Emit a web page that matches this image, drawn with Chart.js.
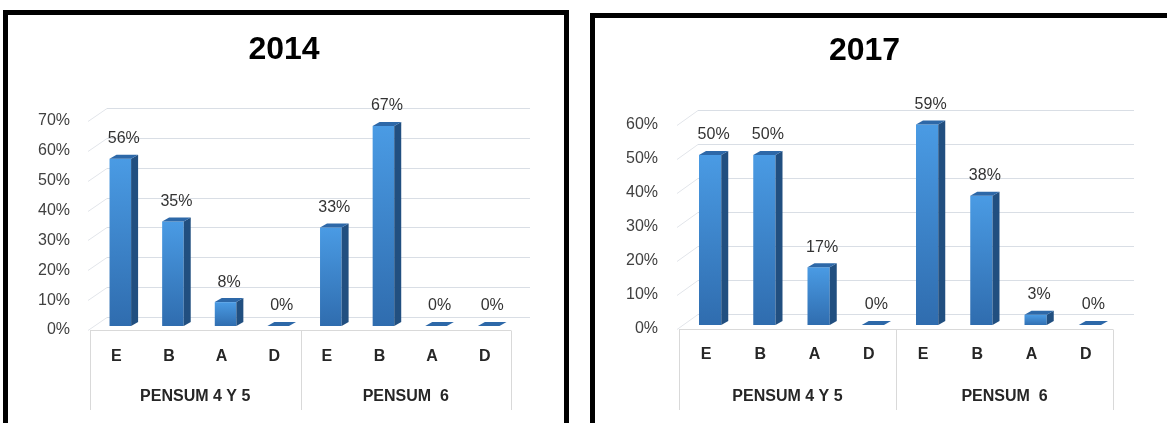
<!DOCTYPE html>
<html>
<head>
<meta charset="utf-8">
<title>Pensum 2014 - 2017</title>
<script src="https://cdn.jsdelivr.net/npm/chart.js@4.4.0/dist/chart.umd.min.js"></script>
<style>
body { margin:0; background:#fff; width:1167px; height:423px; overflow:hidden; position:relative; }
canvas { position:absolute; top:0; }
#c2014 { left:0; }
#c2017 { left:585px; }
.marco { position:absolute; border:5px solid #000; box-sizing:border-box; pointer-events:none; }
#m2014 { left:3px; top:10px; width:566px; height:440px; }
#m2017 { left:590px; top:13px; width:620px; height:440px; }
</style>
</head>
<body>
<canvas id="c2014" width="568" height="423"></canvas>
<canvas id="c2017" width="559" height="423"></canvas>
<div class="marco" id="m2014"></div>
<div class="marco" id="m2017"></div>
<script>
const categorias = ['E', 'B', 'A', 'D', 'E', 'B', 'A', 'D'];
const grupos = ['PENSUM 4 Y 5', 'PENSUM  6'];
const valores2014 = [56, 35, 8, 0, 33, 67, 0, 0];
const valores2017 = [50, 50, 17, 0, 59, 38, 3, 0];
const ticks2014 = [0, 10, 20, 30, 40, 50, 60, 70];
const ticks2017 = [0, 10, 20, 30, 40, 50, 60];

Chart.defaults.font.family = "'Liberation Sans', Arial, sans-serif";

// desplazamiento de las barras hacia el fondo y tamaño de las caras 3D
const DX = 4, DY = -4;
const LADO = 7, ALTO = 4;

const efecto3d = {
    id: 'efecto3d',
    beforeDatasetsDraw(chart, args, opts) {
        const ctx = chart.ctx;
        const area = chart.chartArea;
        const y = chart.scales.y, x = chart.scales.x, x2 = chart.scales.x2;
        ctx.save();
        ctx.lineWidth = 1;
        // lineas de la pared del fondo
        y.ticks.forEach(t => {
            const py = Math.round(y.getPixelForValue(t.value)) + 0.5;
            const pyF = py - opts.fondoY;
            ctx.strokeStyle = '#e2e5ea';
            ctx.beginPath();
            ctx.moveTo(area.left - 2, py);
            ctx.lineTo(area.left + opts.fondoX, pyF);
            ctx.stroke();
            ctx.strokeStyle = '#d9dee5';
            ctx.beginPath();
            ctx.moveTo(area.left + opts.fondoX, pyF);
            ctx.lineTo(area.right + opts.fondoX + 2, pyF);
            ctx.stroke();
        });
        // caja de las etiquetas de categoria
        ctx.strokeStyle = '#d9d9d9';
        const base = Math.round(area.bottom) + 0.5;
        ctx.beginPath();
        ctx.moveTo(area.left, base);
        ctx.lineTo(area.right, base);
        ctx.stroke();
        const medio = (x.getPixelForValue(3) + x.getPixelForValue(4)) / 2;
        [area.left, medio, area.right].forEach(px => {
            px = Math.round(px) + 0.5;
            ctx.beginPath();
            ctx.moveTo(px, base);
            ctx.lineTo(px, x2.bottom);
            ctx.stroke();
        });
        ctx.restore();
        ctx.save();
        ctx.translate(DX, DY);
    },
    afterDatasetsDraw(chart) {
        const ctx = chart.ctx;
        const meta = chart.getDatasetMeta(0);
        const datos = chart.data.datasets[0].data;
        meta.data.forEach((bar, i) => {
            const izq = bar.x - bar.width / 2;
            const der = bar.x + bar.width / 2;
            // cara lateral
            ctx.fillStyle = '#214f80';
            ctx.beginPath();
            ctx.moveTo(der, bar.y);
            ctx.lineTo(der + LADO, bar.y - ALTO);
            ctx.lineTo(der + LADO, bar.base - ALTO);
            ctx.lineTo(der, bar.base);
            ctx.closePath();
            ctx.fill();
            // cara superior
            ctx.fillStyle = '#2d68a8';
            ctx.beginPath();
            ctx.moveTo(izq, bar.y);
            ctx.lineTo(izq + LADO, bar.y - ALTO);
            ctx.lineTo(der + LADO, bar.y - ALTO);
            ctx.lineTo(der, bar.y);
            ctx.closePath();
            ctx.fill();
            // etiqueta
            ctx.fillStyle = '#333333';
            ctx.font = "16px 'Liberation Sans', Arial, sans-serif";
            ctx.textAlign = 'center';
            ctx.textBaseline = 'middle';
            ctx.fillText(datos[i] + '%', bar.x + LADO / 2, bar.y - 20);
        });
        ctx.restore();
    }
};

function colorBarra(c) {
    const chart = c.chart;
    const y = chart.scales.y;
    if (!y || !chart.chartArea) return '#3a80c8';
    const arriba = y.getPixelForValue(c.raw);
    const abajo = y.getPixelForValue(0);
    const g = chart.ctx.createLinearGradient(0, arriba, 0, abajo + 1);
    g.addColorStop(0, '#4a9be4');
    g.addColorStop(1, '#2f6cae');
    return g;
}

function crearGrafico(id, titulo, valores, marcas, m) {
    return new Chart(document.getElementById(id), {
        type: 'bar',
        data: {
            labels: categorias,
            datasets: [{
                data: valores,
                backgroundColor: colorBarra,
                borderWidth: 0,
                categoryPercentage: 1,
                barPercentage: 0.41,
                clip: false
            }]
        },
        options: {
            responsive: false,
            animation: false,
            events: [],
            layout: { padding: { top: m.arriba, bottom: 13, left: 0, right: 0 } },
            plugins: {
                legend: { display: false },
                tooltip: { enabled: false },
                title: {
                    display: true,
                    text: titulo,
                    color: '#000',
                    font: { size: 32, weight: 'bold' },
                    padding: { top: 0, bottom: m.tituloAbajo }
                },
                efecto3d: { fondoX: m.fondoX, fondoY: m.fondoY }
            },
            scales: {
                x: {
                    position: 'bottom',
                    weight: 0,
                    grid: { display: false, drawTicks: false },
                    border: { display: false },
                    ticks: { color: '#262626', font: { size: 16, weight: 'bold' }, padding: m.padCat, maxRotation: 0 },
                    afterFit: s => { s.height = m.altoCat; }
                },
                x2: {
                    type: 'category',
                    labels: grupos,
                    position: 'bottom',
                    weight: 1,
                    offset: true,
                    grid: { display: false, drawTicks: false },
                    border: { display: false },
                    ticks: { color: '#262626', font: { size: 16, weight: 'bold' }, padding: 13, maxRotation: 0 },
                    afterFit: s => { s.height = 36; }
                },
                y: {
                    min: 0,
                    max: marcas[marcas.length - 1],
                    grid: { display: false, drawTicks: false },
                    border: { display: false },
                    ticks: { stepSize: 10, color: '#404040', font: { size: 16 }, padding: m.padY, callback: v => v + '%' },
                    afterFit: s => { s.width = m.anchoY; }
                },
                yDer: {
                    type: 'linear',
                    position: 'right',
                    grid: { display: false, drawTicks: false },
                    border: { display: false },
                    ticks: { display: false },
                    afterFit: s => { s.width = m.anchoDer; }
                }
            }
        },
        plugins: [efecto3d]
    });
}

crearGrafico('c2014', '2014', valores2014, ticks2014,
    { arriba: 31, tituloAbajo: 51.6, anchoY: 90, anchoDer: 57, padY: 20, altoCat: 44, padCat: 17, fondoX: 17, fondoY: 13 });
crearGrafico('c2017', '2017', valores2017, ticks2017,
    { arriba: 32, tituloAbajo: 54.6, anchoY: 94, anchoDer: 31, padY: 21, altoCat: 45, padCat: 16, fondoX: 19, fondoY: 15 });
</script>
</body>
</html>
